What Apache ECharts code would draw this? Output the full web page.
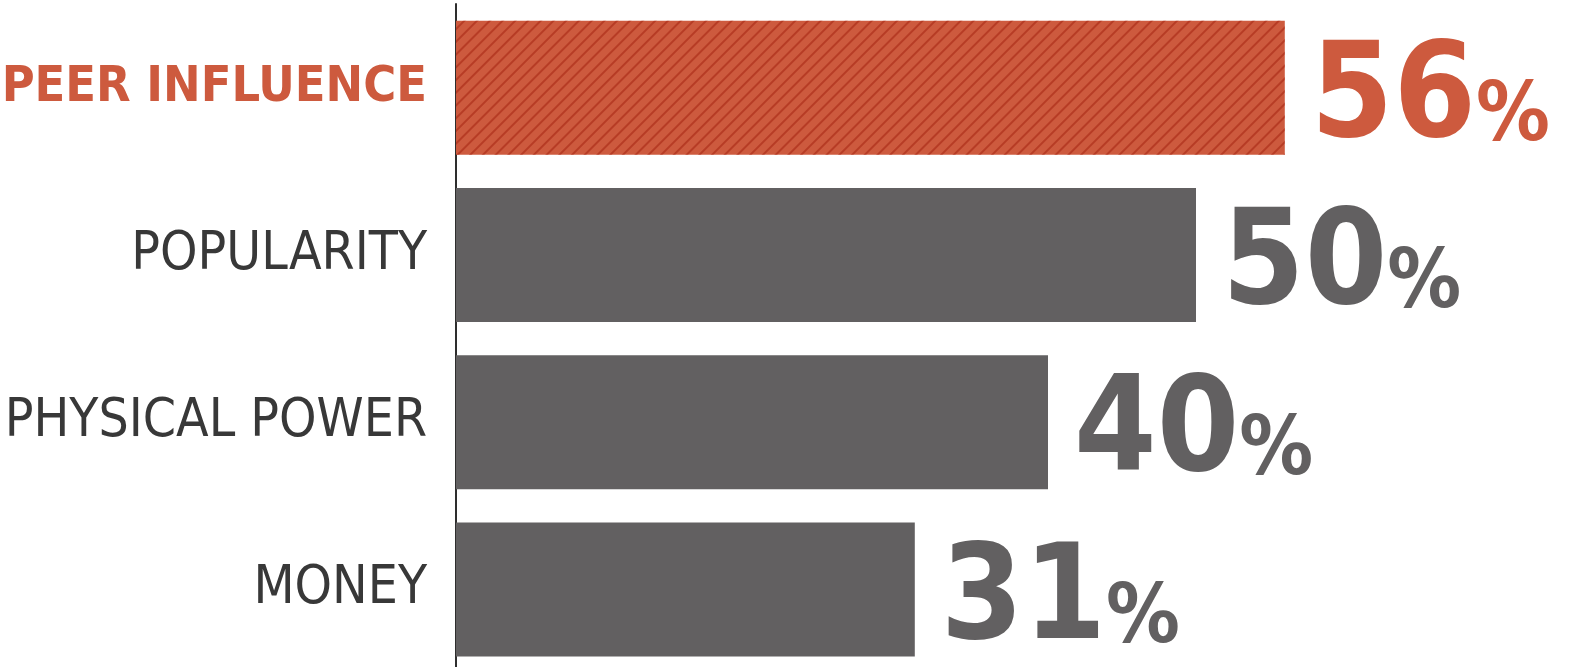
<!DOCTYPE html>
<html>
<head>
<meta charset="utf-8">
<script src="https://cdn.jsdelivr.net/npm/echarts@6/dist/echarts.min.js"></script>
<style>
html,body{margin:0;padding:0;background:#fff;}
#chart{width:1570px;height:667px;}
</style>
</head>
<body>
<div id="chart"></div>
<script>
const categories = ['PEER INFLUENCE', 'POPULARITY', 'PHYSICAL POWER', 'MONEY'];
const values = [56, 50, 40, 31];
const highlightIndex = 0;

const ORANGE = '#CD5A3E';
const GRAY = '#626061';
const LABEL_GRAY = '#383838';
const FONT = '"Liberation Sans Narrow", "DejaVu Sans Condensed", sans-serif';

const chart = echarts.init(document.getElementById('chart'), null, {renderer: 'canvas'});

const seriesData = values.map((v, i) => {
  const hl = i === highlightIndex;
  return {
    value: v,
    itemStyle: hl ? {
      color: ORANGE,
      decal: {
        symbol: 'rect',
        color: 'rgba(168,40,20,0.6)',
        dashArrayX: [1, 0],
        dashArrayY: [1.3, 7],
        rotation: -Math.PI / 4
      }
    } : { color: GRAY },
    label: {
      formatter: hl ? '{nh|{c}}{ph|%}' : '{n|{c}}{p|%}'
    }
  };
});

chart.setOption({
  animation: false,
  backgroundColor: '#fff',
  grid: { left: 456, top: 4, width: 888, height: 669, containLabel: false, outerBoundsMode: 'none' },
  xAxis: {
    type: 'value', min: 0, max: 60,
    show: false
  },
  yAxis: {
    type: 'category',
    data: categories,
    inverse: true,
    axisLine: { show: true, lineStyle: { color: '#2e2e2e', width: 2 } },
    axisTick: { show: false },
    axisLabel: {
      margin: 29,
      formatter: (val, idx) => idx === highlightIndex ? '{h|' + val + '}' : '{g|' + val + '}',
      rich: {
        h: { fontFamily: FONT, fontSize: 50, fontWeight: 'bold', color: ORANGE },
        g: { fontFamily: FONT, fontSize: 53, fontWeight: 'normal', color: LABEL_GRAY }
      }
    }
  },
  series: [{
    type: 'bar',
    data: seriesData,
    barWidth: 134,
    label: {
      show: true,
      position: 'right',
      distance: 26,
      rich: {
        nh: { fontFamily: FONT, fontSize: 132, fontWeight: 'bold', color: ORANGE, verticalAlign: 'bottom', lineHeight: 160 },
        ph: { fontFamily: FONT, fontSize: 82, fontWeight: 'bold', color: ORANGE, verticalAlign: 'bottom', lineHeight: 160, padding: [0, 0, 8, 0] },
        n: { fontFamily: FONT, fontSize: 132, fontWeight: 'bold', color: GRAY, verticalAlign: 'bottom', lineHeight: 160 },
        p: { fontFamily: FONT, fontSize: 82, fontWeight: 'bold', color: GRAY, verticalAlign: 'bottom', lineHeight: 160, padding: [0, 0, 8, 0] }
      }
    }
  }]
});
</script>
</body>
</html>
